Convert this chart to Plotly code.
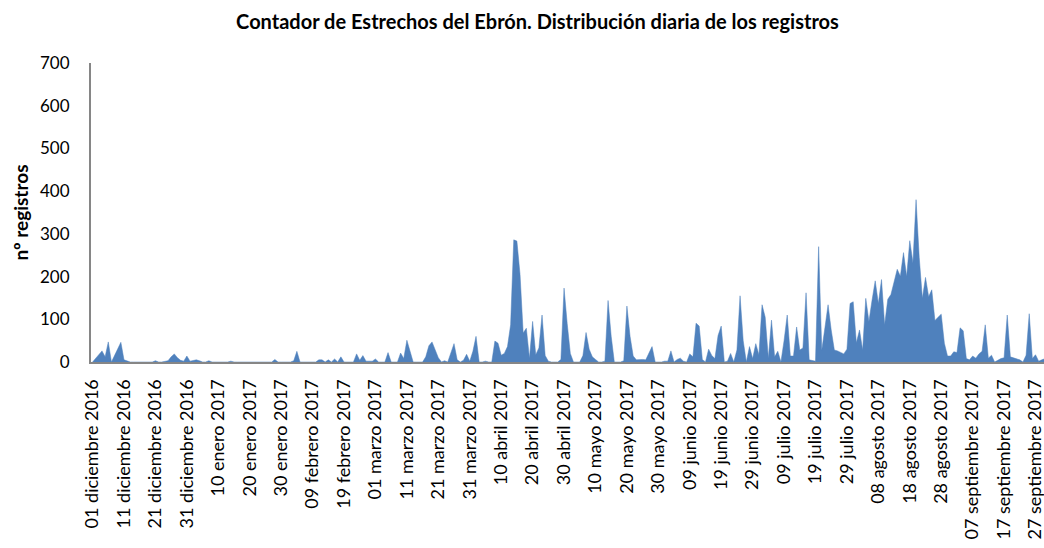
import pandas as pd
import plotly.graph_objects as go

# Daily counts, one list per month (Dec 2016 - Sep 2017)
dic_2016 = [0, 8, 18, 26, 12, 47, 0, 15, 30, 46, 5, 3, 0, 0, 0, 0, 0, 0, 0, 0,
            3, 0, 0, 2, 3, 12, 19, 10, 4, 2, 14]
ene_2017 = [2, 3, 5, 3, 0, 0, 3, 0, 0, 0, 0, 0, 0, 2, 0, 0, 0, 0, 0, 0,
            0, 0, 0, 0, 0, 0, 0, 6, 0, 0, 0]
feb_2017 = [0, 0, 3, 25, 0, 0, 0, 0, 0, 0, 5, 5, 0, 5, 0, 7, 0, 12, 0, 0,
            0, 0, 19, 4, 15, 2, 2, 2]
mar_2017 = [7, 0, 0, 0, 22, 0, 0, 0, 21, 8, 51, 25, 0, 0, 0, 0, 12, 38, 47, 30,
            10, 0, 3, 0, 20, 43, 5, 0, 4, 18, 2]
abr_2017 = [25, 60, 0, 0, 2, 0, 0, 49, 44, 16, 20, 36, 87, 286, 283, 205, 68, 79, 9, 95,
            17, 33, 110, 15, 2, 0, 0, 0, 6, 173]
may_2017 = [90, 20, 0, 0, 0, 15, 69, 30, 12, 6, 0, 0, 2, 144, 60, 0, 0, 0, 3, 131,
            60, 14, 5, 6, 6, 5, 20, 36, 0, 0, 0]
jun_2017 = [2, 2, 26, 0, 6, 9, 2, 0, 19, 12, 91, 84, 6, 0, 30, 15, 8, 62, 84, 0,
            2, 20, 0, 28, 155, 50, 0, 36, 8, 43]
jul_2017 = [17, 134, 105, 9, 98, 12, 25, 0, 50, 110, 14, 14, 82, 28, 33, 162, 5, 4, 2, 270,
            28, 80, 134, 75, 28, 26, 23, 19, 30, 137, 141]
ago_2017 = [45, 75, 28, 149, 95, 145, 190, 137, 193, 87, 147, 158, 185, 217, 201, 256, 200, 284, 232, 380,
            245, 149, 198, 153, 169, 97, 105, 112, 44, 14, 14]
sep_2017 = [24, 22, 80, 73, 8, 5, 14, 9, 19, 25, 87, 9, 16, 0, 5, 8, 10, 110, 12, 10,
            8, 5, 0, 16, 113, 8, 17, 2, 5, 8]

MESES = ["enero", "febrero", "marzo", "abril", "mayo", "junio", "julio",
         "agosto", "septiembre", "octubre", "noviembre", "diciembre"]

registros = (dic_2016 + ene_2017 + feb_2017 + mar_2017 + abr_2017 + may_2017
             + jun_2017 + jul_2017 + ago_2017 + sep_2017)
fechas = pd.date_range("2016-12-01", periods=len(registros), freq="D")

# one label every 10 days
tick_fechas = fechas[::10]
tick_textos = [f"{f.day:02d} {MESES[f.month - 1]} {f.year}" for f in tick_fechas]

inicio = fechas[0] - pd.Timedelta(hours=12)
fin = fechas[0] + pd.Timedelta(days=302.7)

AZUL = "#4F81BD"
EJE = "#868686"
FUENTE = "Lato"

fig = go.Figure()
fig.add_trace(go.Scatter(
    x=fechas, y=registros, mode="lines",
    line=dict(color=AZUL, width=0.5),
    fill="tozeroy", fillcolor=AZUL,
    hoverinfo="x+y", showlegend=False,
))

fig.update_layout(
    width=1044, height=548,
    margin=dict(l=91, r=0, t=63, b=186, autoexpand=False),
    paper_bgcolor="white", plot_bgcolor="white",
    font=dict(family=FUENTE, color="black", size=17),
    title=dict(
        text="<b>Contador de Estrechos del Ebrón. Distribución diaria de los registros</b>",
        x=537.5 / 1044, xref="container", xanchor="center",
        y=1 - 22 / 548, yref="container", yanchor="middle",
        font=dict(family=FUENTE, size=20, color="black"),
    ),
    xaxis=dict(
        type="date", range=[inicio, fin],
        tickmode="array", tickvals=tick_fechas, ticktext=tick_textos,
        tickangle=-90, showgrid=False, zeroline=False,
        showline=True, linecolor=EJE, linewidth=2,
        ticks="", ticklabelstandoff=8, automargin=False,
        ticklabeloverflow="allow",
        tickfont=dict(size=18),
    ),
    yaxis=dict(
        range=[0, 700], tickmode="linear", tick0=0, dtick=100,
        showgrid=False, zeroline=False,
        showline=True, linecolor=EJE, linewidth=2,
        ticks="", ticklabelstandoff=16, automargin=False,
        tickfont=dict(size=17),
    ),
    annotations=[dict(
        text="<b>nº registros</b>", textangle=-90,
        xref="paper", yref="paper",
        x=(20 - 91) / 953, y=0.5, xanchor="center", yanchor="middle",
        showarrow=False, font=dict(family=FUENTE, size=19, color="black"),
    )],
)

fig.write_html("out.html")
